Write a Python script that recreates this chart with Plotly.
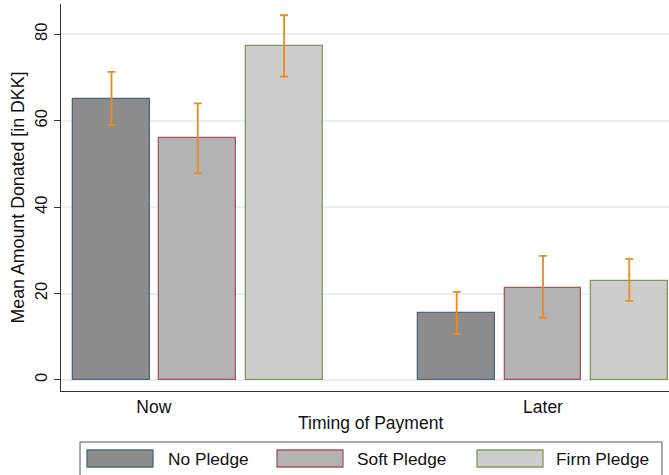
import plotly.graph_objects as go

# ---- data ----
timing = ["Now", "Later"]
series = ["No Pledge", "Soft Pledge", "Firm Pledge"]
means = {
    "No Pledge":   [65.0, 15.5],
    "Soft Pledge": [55.9, 21.4],
    "Firm Pledge": [77.2, 23.0],
}
upper = {
    "No Pledge":   [71.3, 20.4],
    "Soft Pledge": [64.0, 28.7],
    "Firm Pledge": [84.4, 28.0],
}
lower = {
    "No Pledge":   [59.0, 10.6],
    "Soft Pledge": [47.8, 14.4],
    "Firm Pledge": [70.2, 18.3],
}
y_ticks = [0, 20, 40, 60, 80]

# ---- styles ----
fills = {"No Pledge": "#8c8c8c", "Soft Pledge": "#b3b3b3", "Firm Pledge": "#cdcdcd"}
edges = {"No Pledge": "#4d6680", "Soft Pledge": "#a8555d", "Firm Pledge": "#7c9a5c"}
err_col = "#ea8c1e"
FONT = "Liberation Sans, Arial, sans-serif"

W, H = 669, 475
ML, MR, MT, MB = 61, 0, 4, 84
PW, PH = W - ML - MR, H - MT - MB

def px(xp):
    return (xp - ML) / PW

def py(yp):
    return (H - MB - yp) / PH

group_step = 4
fig = go.Figure()
for s_i, s in enumerate(series):
    xs = [g_i * group_step + s_i for g_i in range(len(timing))]
    fig.add_trace(go.Bar(
        x=xs, y=means[s], name=s, width=0.89,
        marker=dict(color=fills[s], line=dict(color=edges[s], width=1.3)),
        error_y=dict(type="data", symmetric=False,
                     array=[u - m for u, m in zip(upper[s], means[s])],
                     arrayminus=[m - l for m, l in zip(means[s], lower[s])],
                     color=err_col, thickness=1.8, width=4),
        showlegend=False, hoverinfo="skip",
    ))

tick_positions = [0.49, 5.0]

fig.update_layout(
    width=W, height=H,
    margin=dict(l=ML, r=MR, t=MT, b=MB, pad=0),
    paper_bgcolor="white", plot_bgcolor="white",
    font=dict(family=FONT, size=16, color="#111"),
    showlegend=False,
    bargap=0,
    xaxis=dict(range=[-0.585, 6.46], tickvals=tick_positions, ticktext=timing,
               showgrid=False, zeroline=False, showline=True, linecolor="#333",
               linewidth=1.2, ticks="", tickfont=dict(size=17.5),
               title=dict(text="", font=dict(size=17.5))),
    yaxis=dict(range=[-2.55, 87.0], tickvals=y_ticks, tickangle=-90,
               showgrid=True, gridcolor="#e8eff2", gridwidth=1.5, zeroline=False,
               showline=True, linecolor="#333", linewidth=1.2,
               ticks="outside", ticklen=6, tickcolor="#333", tickfont=dict(size=16.5),
               title=dict(text="Mean Amount Donated [in DKK]", font=dict(size=17.8), standoff=3)),
)

# ---- manual legend and x title ----
shapes = [dict(type="rect", xref="paper", yref="paper",
               x0=px(80), x1=px(662), y0=py(478), y1=py(442),
               line=dict(color="#555", width=1), fillcolor="white")]
annotations = [dict(xref="paper", yref="paper", x=px(371), y=py(423),
                    text="Timing of Payment", showarrow=False,
                    xanchor="center", yanchor="middle",
                    font=dict(size=17.5, family=FONT, color="#111"))]
sw_x = [87, 277, 477]
tx_x = [166, 355, 554]
for s_i, s in enumerate(series):
    shapes.append(dict(type="rect", xref="paper", yref="paper",
                       x0=px(sw_x[s_i]), x1=px(sw_x[s_i] + 66), y0=py(467), y1=py(450),
                       line=dict(color=edges[s], width=1.3), fillcolor=fills[s]))
    annotations.append(dict(xref="paper", yref="paper", x=px(tx_x[s_i]), y=py(459),
                            text=s, showarrow=False, xanchor="left", yanchor="middle",
                            font=dict(size=17.3, family=FONT, color="#111")))
fig.update_layout(shapes=shapes, annotations=annotations)

fig.write_html("out.html", config={"displayModeBar": False},
               post_script="document.body.style.margin='0';document.body.style.padding='0';")
